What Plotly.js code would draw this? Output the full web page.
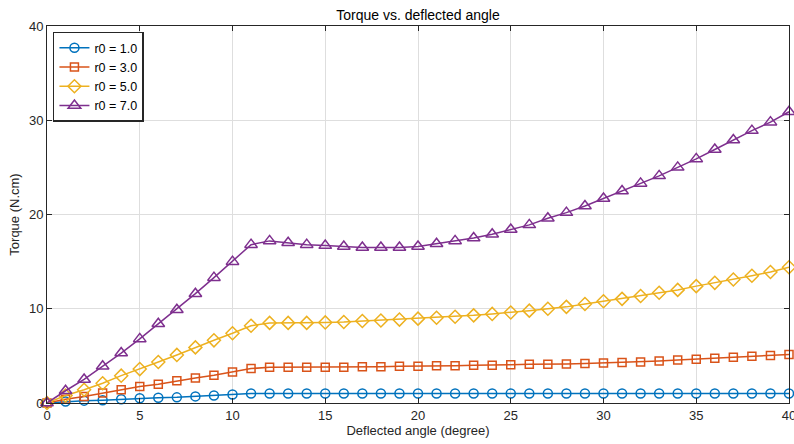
<!DOCTYPE html>
<html>
<head>
<meta charset="utf-8">
<script src="https://cdn.plot.ly/plotly-3.0.1.min.js"></script>
<style>html,body{margin:0;padding:0;background:#fff;}#chart{width:794px;height:444px;}</style>
</head>
<body>
<div id="chart"></div>
<script>
const angle = [0,1,2,3,4,5,6,7,8,9,10,11,12,13,14,15,16,17,18,19,20,21,22,23,24,25,26,27,28,29,30,31,32,33,34,35,36,37,38,39,40];
const seriesNames = ['r0 = 1.0','r0 = 3.0','r0 = 5.0','r0 = 7.0'];
const torqueR1 = [0,0.15,0.25,0.3,0.4,0.5,0.55,0.6,0.7,0.8,0.9,1.0,1.0,1.0,1.0,1.0,1.0,1.0,1.0,1.0,1.0,1.0,1.0,1.0,1.0,1.0,1.0,1.0,1.0,1.0,1.0,1.0,1.0,1.0,1.0,1.0,1.0,1.0,1.0,1.0,1.0];
const torqueR3 = [0,0.4,0.7,1.05,1.4,1.75,2.0,2.35,2.65,2.95,3.3,3.65,3.8,3.8,3.8,3.8,3.8,3.85,3.85,3.9,3.9,3.95,3.95,4.0,4.0,4.05,4.1,4.1,4.15,4.2,4.25,4.3,4.35,4.45,4.55,4.65,4.75,4.85,4.95,5.05,5.15];
const torqueR5 = [0,0.8,1.4,2.1,2.9,3.6,4.35,5.1,5.9,6.65,7.4,8.2,8.5,8.5,8.5,8.55,8.6,8.7,8.75,8.85,8.95,9.05,9.15,9.3,9.45,9.6,9.8,10.0,10.2,10.5,10.8,11.05,11.35,11.7,12.0,12.4,12.75,13.1,13.5,13.9,14.4];
const torqueR7 = [0,1.3,2.5,3.9,5.3,6.8,8.4,9.9,11.6,13.3,15.0,16.8,17.2,17.0,16.8,16.7,16.6,16.5,16.5,16.5,16.6,16.9,17.2,17.5,17.9,18.4,18.9,19.6,20.2,20.9,21.7,22.5,23.3,24.1,25.0,25.9,26.9,27.9,28.9,29.8,30.9];
const xTicks = [0,5,10,15,20,25,30,35,40];
const yTicks = [0,10,20,30,40];

const colors = ['#0072BD','#D95319','#EDB120','#7E2F8E'];
const symbols = ['circle-open','square-open','diamond-open','triangle-up-open'];
const sizes = [9,8,10,11];
const ys = [torqueR1, torqueR3, torqueR5, torqueR7];

const traces = ys.map((y,i)=>({
  x: angle, y: y, name: seriesNames[i], type: 'scatter', mode: 'lines+markers',
  line: {color: colors[i], width: 1.5},
  marker: {symbol: symbols[i], size: sizes[i], color: colors[i], line: {width: 1.5, color: colors[i]}},
  cliponaxis: false
}));

const axisCommon = {
  showline: true, linecolor: '#262626', linewidth: 1, mirror: 'ticks',
  ticks: 'inside', ticklen: 5, tickcolor: '#262626', tickwidth: 1,
  showgrid: true, gridcolor: '#dedede', gridwidth: 1, zeroline: false,
  ticklabeloverflow: 'allow',
  tickfont: {family: 'Liberation Sans, Arial, sans-serif', size: 13, color: '#262626'}
};

const layout = {
  width: 794, height: 444,
  margin: {l: 47, r: 5, t: 26, b: 41},
  paper_bgcolor: '#fff', plot_bgcolor: '#fff',
  font: {family: 'Liberation Sans, Arial, sans-serif', size: 13, color: '#262626'},
  title: {text: 'Torque vs. deflected angle', x: 0.5, xref: 'paper', y: 0.965, yanchor: 'middle', font: {size: 14, color: '#000'}},
  xaxis: Object.assign({}, axisCommon, {range: [0, 40], tickvals: xTicks, title: {text: 'Deflected angle (degree)', standoff: 2, font: {size: 13, color: '#262626'}}}),
  yaxis: Object.assign({}, axisCommon, {range: [0, 40], tickvals: yTicks, title: {text: 'Torque (N.cm)', standoff: 6, font: {size: 13, color: '#262626'}}}),
  showlegend: true,
  legend: {x: 0.008, y: 0.985, xanchor: 'left', yanchor: 'top', bgcolor: '#fff', bordercolor: '#262626', borderwidth: 1.5,
    font: {size: 12.5, color: '#000'}, itemwidth: 30, tracegroupgap: 0}
};

Plotly.newPlot('chart', traces, layout, {displayModeBar: false, staticPlot: true});
</script>
</body>
</html>
